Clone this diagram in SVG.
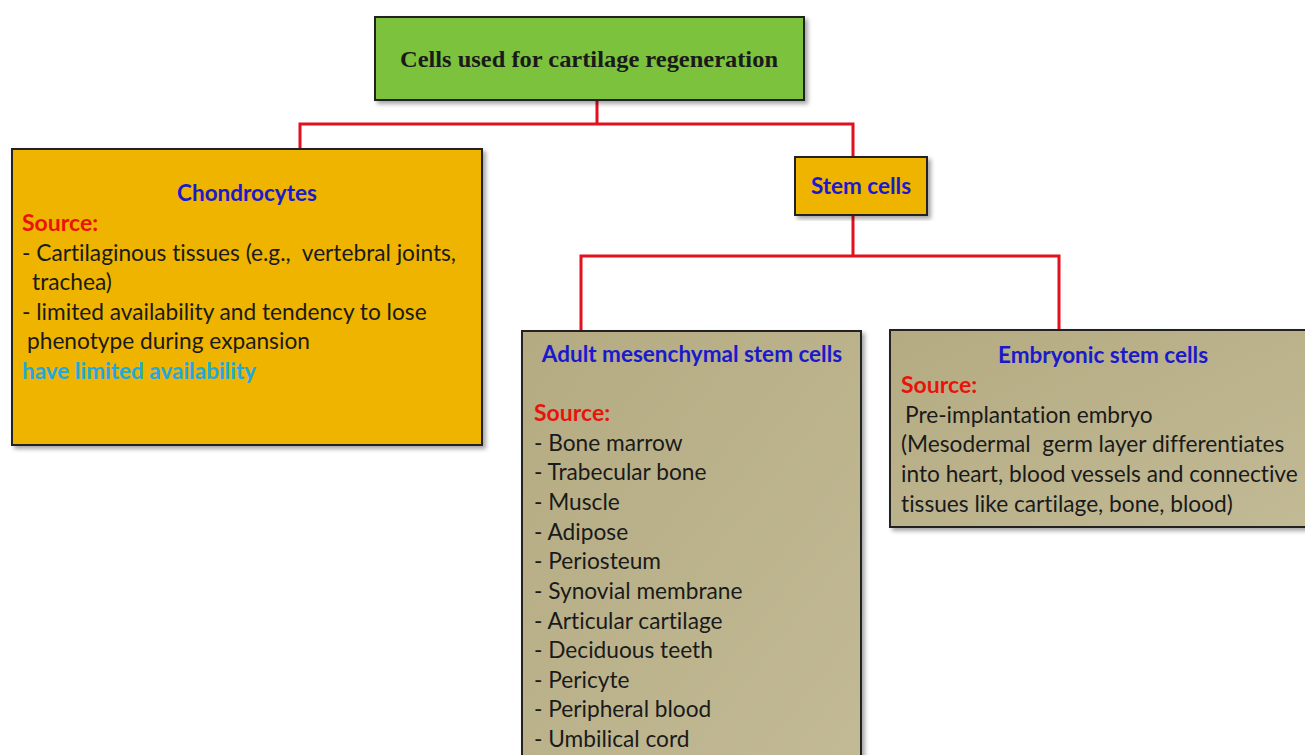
<svg xmlns="http://www.w3.org/2000/svg" width="1305" height="755" viewBox="0 0 1305 755">
<defs>
<filter id="sh" x="-5%" y="-5%" width="115%" height="115%">
<feDropShadow dx="3" dy="3" stdDeviation="2" flood-color="#000" flood-opacity="0.35"/>
</filter>
<linearGradient id="khaki" x1="0" y1="0" x2="1" y2="1">
<stop offset="0" stop-color="#b4ab82"/>
<stop offset="1" stop-color="#c2ba95"/>
</linearGradient>
<style>
text{font-variant-ligatures:none;white-space:pre}
.box{stroke:#222;stroke-width:2;filter:url(#sh)}
.gold{fill:#eeb400}
.kh{fill:url(#khaki)}
.t{font-family:Lato,"Liberation Sans",sans-serif;font-size:22.7px;fill:#1a1a1a}
.h{font-family:Lato,"Liberation Sans",sans-serif;font-size:22.5px;font-weight:bold;fill:#1a1acc}
.src{font-family:Lato,"Liberation Sans",sans-serif;font-size:23px;font-weight:bold;fill:#e8140c}
.conn{fill:none;stroke:#e3101e;stroke-width:3}
</style>
</defs>
<g id="connectors">
<path class="conn" d="M597 100 V124 M300 149 V124 H853 V157"/>
<path class="conn" d="M853 215 V256 M581 331 V256 H1059 V331"/>
</g>
<g id="root">
<rect class="box" x="375" y="17" width="429" height="83" fill="#7cc23e"/>
<text x="589" y="67" text-anchor="middle" font-family="'Liberation Serif',serif" font-weight="bold" font-size="23" fill="#1a1a1a" textLength="378" lengthAdjust="spacingAndGlyphs">Cells used for cartilage regeneration</text>
</g>
<g id="chondrocytes">
<rect class="box gold" x="12" y="149" width="470" height="296"/>
<text class="h" x="247" y="201" text-anchor="middle">Chondrocytes</text>
<text class="src" x="22" y="231">Source:</text>
<text class="t" x="22" y="261">- Cartilaginous tissues (e.g.,  vertebral joints,</text>
<text class="t" x="32" y="290">trachea)</text>
<text class="t" x="22" y="320">- limited availability and tendency to lose</text>
<text class="t" x="27" y="349">phenotype during expansion</text>
<text x="22" y="379" font-family="Lato,'Liberation Sans',sans-serif" font-size="22.5" font-weight="bold" fill="#22a8e0">have limited availability</text>
</g>
<g id="stem-cells">
<rect class="box gold" x="795" y="157" width="132" height="58"/>
<text class="h" x="861" y="194" text-anchor="middle">Stem cells</text>
</g>
<g id="adult-msc">
<rect class="box kh" x="522" y="331" width="339" height="430"/>
<text class="h" x="692" y="362" text-anchor="middle">Adult mesenchymal stem cells</text>
<text class="src" x="534" y="421">Source:</text>
<text class="t" x="534" y="451">- Bone marrow</text>
<text class="t" x="534" y="480">- Trabecular bone</text>
<text class="t" x="534" y="510">- Muscle</text>
<text class="t" x="534" y="540">- Adipose</text>
<text class="t" x="534" y="569">- Periosteum</text>
<text class="t" x="534" y="599">- Synovial membrane</text>
<text class="t" x="534" y="629">- Articular cartilage</text>
<text class="t" x="534" y="658">- Deciduous teeth</text>
<text class="t" x="534" y="688">- Pericyte</text>
<text class="t" x="534" y="717">- Peripheral blood</text>
<text class="t" x="534" y="747">- Umbilical cord</text>
</g>
<g id="embryonic">
<rect class="box kh" x="890" y="330" width="425" height="197"/>
<text class="h" x="1103" y="363" text-anchor="middle">Embryonic stem cells</text>
<text class="src" x="901" y="393">Source:</text>
<text class="t" x="905" y="423">Pre-implantation embryo</text>
<text class="t" x="901" y="452">(Mesodermal  germ layer differentiates</text>
<text class="t" x="901" y="482">into heart, blood vessels and connective</text>
<text class="t" x="901" y="512">tissues like cartilage, bone, blood)</text>
</g>
</svg>
